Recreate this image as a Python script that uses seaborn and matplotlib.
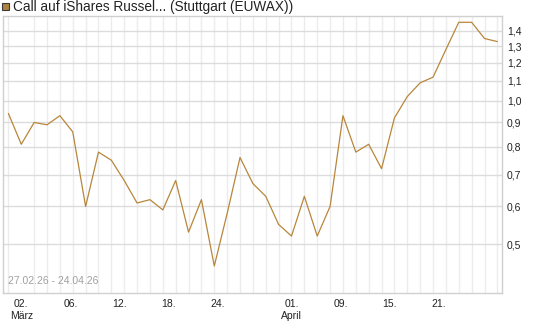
import matplotlib
matplotlib.use("Agg")
import matplotlib.pyplot as plt
import matplotlib.ticker as mticker
from matplotlib.patches import Rectangle
import numpy as np
import pandas as pd
import seaborn as sns

# %% data (one value per trading day)
dates = [
    "27.02", "02.03", "03.03", "04.03", "05.03", "06.03", "09.03", "10.03",
    "11.03", "12.03", "13.03", "16.03", "17.03", "18.03", "19.03", "20.03",
    "23.03", "24.03", "25.03", "26.03", "27.03", "30.03", "31.03", "01.04",
    "02.04", "07.04", "08.04", "09.04", "10.04", "13.04", "14.04", "15.04",
    "16.04", "17.04", "20.04", "21.04", "22.04", "23.04", "24.04",
]
prices = [
    0.94, 0.81, 0.90, 0.89, 0.93, 0.86, 0.60, 0.78,
    0.75, 0.68, 0.61, 0.62, 0.59, 0.68, 0.53, 0.62,
    0.45, 0.58, 0.76, 0.67, 0.63, 0.55, 0.52, 0.63,
    0.52, 0.60, 0.93, 0.78, 0.81, 0.72, 0.92, 1.02,
    1.09, 1.12, 1.28, 1.46, 1.46, 1.35, 1.33,
]
tick_days = ["02.03", "06.03", "12.03", "18.03", "24.03", "01.04", "09.04", "15.04", "21.04"]
tick_labels = ["02.\nMärz", "06.", "12.", "18.", "24.", "01.\nApril", "09.", "15.", "21."]
y_ticks = [0.5, 0.6, 0.7, 0.8, 0.9, 1.0, 1.1, 1.2, 1.3, 1.4]

line_color = "#B8863B"

# %%
sns.set_theme(style="white")
plt.rcParams["font.family"] = ["Liberation Sans", "DejaVu Sans"]

df = pd.DataFrame({"day": np.arange(len(dates)), "price": prices})

fig = plt.figure(figsize=(5.45, 3.27), dpi=100)
ax = fig.add_axes([3 / 545, 1 - 293 / 327, 499 / 545, 277 / 327])

sns.lineplot(data=df, x="day", y="price", ax=ax, color=line_color, linewidth=0.9)

ax.set_yscale("log")
ax.set_ylim(0.395, 1.505)
ax.set_xlim(-0.42, len(dates) - 1 + 0.36)

# vertical grid: one line per trading day
ax.set_xticks(df["day"], minor=True)
ax.grid(True, axis="x", which="minor", color="#ececec", linewidth=1.0)
ax.grid(True, axis="y", which="major", color="#dcdcdc", linewidth=1.0)
ax.set_axisbelow(True)

# date labels sit on a slightly tighter spacing than the data in the original
label_step = 0.955
tick_pos = [1 + (dates.index(d) - 1) * label_step for d in tick_days]
ax.set_xticks(tick_pos)
ax.set_xticklabels(tick_labels, fontsize=7.5, color="#222222", linespacing=1.25)
for lbl in ax.get_xticklabels():
    lbl.set_horizontalalignment("center")

ax.yaxis.set_major_locator(mticker.FixedLocator(y_ticks))
ax.yaxis.set_minor_locator(mticker.NullLocator())
ax.yaxis.set_major_formatter(mticker.FuncFormatter(lambda v, _: f"{v:.1f}".replace(".", ",")))
ax.yaxis.tick_right()
ax.tick_params(axis="y", labelsize=7.5, colors="#222222", length=0, pad=3.5)
ax.tick_params(axis="x", which="both", length=0, pad=4)

ax.set_xlabel("")
ax.set_ylabel("")
for side in ["top", "bottom", "left", "right"]:
    ax.spines[side].set_color("#d0d0d0")
    ax.spines[side].set_linewidth(1.0)

ax.text(0.01, 0.025, "27.02.26 - 24.04.26", transform=ax.transAxes,
        fontsize=7.5, color="#a0a0a0", ha="left", va="bottom")

# legend
fig.add_artist(Rectangle((2 / 545, 1 - 10 / 327), 7 / 545, 7 / 327,
                         transform=fig.transFigure, facecolor="#B08040",
                         edgecolor="#3a3a3a", linewidth=0.8))
fig.text(13 / 545, 1 - 7 / 327, "Call auf iShares Russel... (Stuttgart (EUWAX))",
         fontsize=9.8, color="#222222", ha="left", va="center")

fig.savefig("out.png", dpi=100)
